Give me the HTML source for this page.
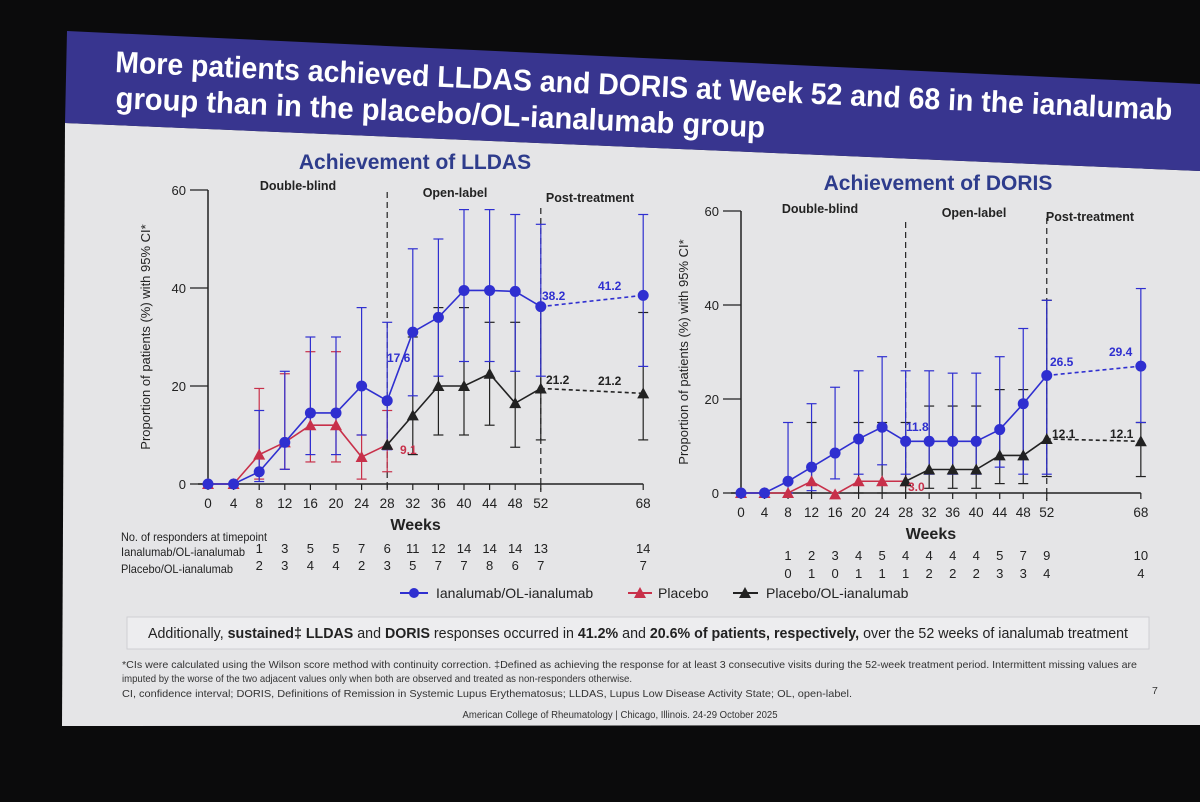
<!DOCTYPE html>
<html><head><meta charset="utf-8"><style>
body{margin:0;background:#0b0b0c;}
svg{display:block;font-family:"Liberation Sans",sans-serif;}
</style></head><body>
<svg id="s" width="1200" height="802" viewBox="0 0 1200 802">
<polygon points="65,123 1200,171 1200,725 62,726" fill="#e5e5e7"/>
<polygon points="67,31 1200,84 1200,171 65,123" fill="#38358f"/>
<g transform="rotate(2.6 115 70)" fill="#ffffff" font-weight="bold" font-size="30">
<text x="115" y="72" textLength="1058" lengthAdjust="spacingAndGlyphs">More patients achieved LLDAS and DORIS at Week 52 and 68 in the ianalumab</text>
<text x="117" y="108" textLength="650" lengthAdjust="spacingAndGlyphs">group than in the placebo/OL-ianalumab group</text>
</g>
<text x="415" y="169" text-anchor="middle" font-size="21" font-weight="bold" fill="#2e3c8c">Achievement of LLDAS</text>
<text x="938" y="190" text-anchor="middle" font-size="21" font-weight="bold" fill="#2e3c8c">Achievement of DORIS</text>
<g id="left"></g>
<g id="right"></g>
<g font-size="12" fill="#222">
<text x="121" y="541" textLength="146" lengthAdjust="spacingAndGlyphs">No. of responders at timepoint</text>
<text x="121" y="556" textLength="124" lengthAdjust="spacingAndGlyphs">Ianalumab/OL-ianalumab</text>
<text x="121" y="573" textLength="112" lengthAdjust="spacingAndGlyphs">Placebo/OL-ianalumab</text>
</g>
<g id="counts" font-size="13" fill="#222" text-anchor="middle"></g>
<g font-size="14" fill="#222">
<g><line x1="400" y1="593" x2="428" y2="593" stroke="#2f2fd0" stroke-width="2"/><circle cx="414" cy="593" r="5" fill="#2f2fd0"/><text x="436" y="598">Ianalumab/OL-ianalumab</text></g>
<g><line x1="628" y1="593" x2="652" y2="593" stroke="#c8304a" stroke-width="2"/><polygon points="640,587 646,598 634,598" fill="#c8304a"/><text x="658" y="598">Placebo</text></g>
<g><line x1="733" y1="593" x2="758" y2="593" stroke="#222" stroke-width="2"/><polygon points="745,587 751,598 739,598" fill="#222"/><text x="766" y="598">Placebo/OL-ianalumab</text></g>
</g>
<rect x="127" y="617" width="1022" height="32" fill="#ededef" stroke="#cfcfd3"/>
<text x="638" y="638" text-anchor="middle" font-size="14.5" fill="#222" textLength="980" lengthAdjust="spacingAndGlyphs">Additionally, <tspan font-weight="bold">sustained‡ LLDAS</tspan> and <tspan font-weight="bold">DORIS</tspan> responses occurred in <tspan font-weight="bold">41.2%</tspan> and <tspan font-weight="bold">20.6% of patients, respectively,</tspan> over the 52 weeks of ianalumab treatment</text>
<g font-size="10.5" fill="#333">
<text x="122" y="668" textLength="1015" lengthAdjust="spacingAndGlyphs">*CIs were calculated using the Wilson score method with continuity correction. ‡Defined as achieving the response for at least 3 consecutive visits during the 52-week treatment period. Intermittent missing values are</text>
<text x="122" y="682" textLength="510" lengthAdjust="spacingAndGlyphs">imputed by the worse of the two adjacent values only when both are observed and treated as non-responders otherwise.</text>
<text x="122" y="697" textLength="730" lengthAdjust="spacingAndGlyphs">CI, confidence interval; DORIS, Definitions of Remission in Systemic Lupus Erythematosus; LLDAS, Lupus Low Disease Activity State; OL, open-label.</text>
<text x="1152" y="694">7</text>
<text x="620" y="718" text-anchor="middle" font-size="10" textLength="315" lengthAdjust="spacingAndGlyphs">American College of Rheumatology | Chicago, Illinois. 24-29 October 2025</text>
</g>
</svg>
<script>
const weeks=[0,4,8,12,16,20,24,28,32,36,40,44,48,52,68];
const ticksY=[0,20,40,60];
// LLDAS
const lIan=[0,0,2.5,8.5,14.5,14.5,20,17,31,34,39.5,39.5,39.3,36.2,38.5];
const lIanLo=[null,null,0.5,3,6,6,10,7,18,22,25,25,23,22,24];
const lIanHi=[null,null,15,23,30,30,36,33,48,50,56,56,55,53,55];
const lPlaWeeks=[0,4,8,12,16,20,24,28];
const lPla=[0,0,6,8.5,12,12,5.5,8];
const lPlaLo=[null,null,1,3,4.5,4.5,1,2.5];
const lPlaHi=[null,null,19.5,22.5,27,27,10,15];
const lOlWeeks=[28,32,36,40,44,48,52,68];
const lOl=[8,14,20,20,22.5,16.5,19.5,18.5];
const lOlLo=[null,6,10,10,12,7.5,9,9];
const lOlHi=[null,30,36,36,33,33,36,35];
const lIanN=[null,null,1,3,5,5,7,6,11,12,14,14,14,13,14];
const lOlN=[null,null,2,3,4,4,2,3,5,7,7,8,6,7,7];
// DORIS
const dIan=[0,0,2.5,5.5,8.5,11.5,14,11,11,11,11,13.5,19,25,27];
const dIanLo=[null,null,0,0.5,3,4,6,4,4,4,4,5.5,4,4,15];
const dIanHi=[null,null,15,19,22.5,26,29,26,26,25.5,25.5,29,35,41,43.5];
const dPla=[0,0,0,2.5,-0.3,2.5,2.5,2.5];
const dPlaLo=[null,null,null,0,null,0,0,0];
const dPlaHi=[null,null,null,15,null,15,15,15];
const dOl=[2.5,5,5,5,8,8,11.5,11];
const dOlLo=[null,1,1,1,2,2,3.5,3.5];
const dOlHi=[null,18.5,18.5,18.5,22,22,41,15];
const dIanN=[null,null,1,2,3,4,5,4,4,4,4,5,7,9,10];
const dOlN=[null,null,0,1,0,1,1,1,2,2,2,3,3,4,4];

const NS="http://www.w3.org/2000/svg";
function mk(p,t,a,txt){const e=document.createElementNS(NS,t);for(const k in a)e.setAttribute(k,a[k]);if(txt!==undefined)e.textContent=txt;p.appendChild(e);return e;}
const BLUE="#2f2fd0",RED="#c8304a",BLK="#222";

function chart(g,xs,ys,cfg){
  const x0=xs(0),y0=ys(0),y60=ys(60);
  mk(g,'line',{x1:x0,y1:y60,x2:x0,y2:y0,stroke:BLK,'stroke-width':1.5});
  mk(g,'line',{x1:x0-10,y1:y0,x2:xs(68),y2:y0,stroke:BLK,'stroke-width':1.5});
  ticksY.forEach(v=>{
    const t=mk(g,'line',{x1:x0-18,y1:ys(v),x2:x0,y2:ys(v),stroke:BLK,'stroke-width':1.2});
    
    
    const l=mk(g,'text',{x:x0-22,y:ys(v)+5,'text-anchor':'end','font-size':13,fill:BLK},v);
    
    
  });
  weeks.forEach(w=>{
    mk(g,'line',{x1:xs(w),y1:y0,x2:xs(w),y2:y0+6,stroke:BLK,'stroke-width':1.2});
    const l=mk(g,'text',{x:xs(w),y:y0+24,'text-anchor':'middle','font-size':13.5,fill:BLK},w);
    
    
  });
  const wt=mk(g,'text',{x:(xs(0)+xs(68))/2-10,y:y0+46,'text-anchor':'middle','font-size':16,'font-weight':'bold',fill:BLK},'Weeks');
  
  
  const cy=(y0+y60)/2;
  const yt=mk(g,'text',{x:cfg.ytx,y:cy,'text-anchor':'middle','font-size':13,fill:BLK,transform:`rotate(-90 ${cfg.ytx} ${cy})`},'Proportion of patients (%) with 95% CI*');
  
  
  [28,52].forEach(w=>{const d=mk(g,'line',{x1:xs(w),y1:cfg.dashTop[w],x2:xs(w),y2:y0+8,stroke:BLK,'stroke-width':1.2,'stroke-dasharray':'6,4'});
    
    });
  cfg.phases.forEach(p=>{const t=mk(g,'text',{x:p[1],y:p[2],'text-anchor':'middle','font-size':12.5,'font-weight':'bold',fill:BLK},p[0]);
    
    });
}
function errs(g,xs,ys,ws,lo,hi,col,name){
  ws.forEach((w,i)=>{if(hi[i]==null)return;
    const e=mk(g,'g',{stroke:col,'stroke-width':1.2});
    
    
    mk(e,'line',{x1:xs(w),y1:ys(lo[i]),x2:xs(w),y2:ys(hi[i])});
    mk(e,'line',{x1:xs(w)-5,y1:ys(lo[i]),x2:xs(w)+5,y2:ys(lo[i])});
    mk(e,'line',{x1:xs(w)-5,y1:ys(hi[i]),x2:xs(w)+5,y2:ys(hi[i])});
  });
}
function series(g,xs,ys,ws,vals,col,shape,name,dashLast){
  const n=dashLast?ws.length-1:ws.length;
  const pts=ws.slice(0,n).map((w,i)=>xs(w)+','+ys(vals[i])).join(' ');
  const pl=mk(g,'polyline',{points:pts,fill:'none',stroke:col,'stroke-width':1.6});
  
  
  if(dashLast){const k=ws.length-1;
    const d=mk(g,'line',{x1:xs(ws[k-1]),y1:ys(vals[k-1]),x2:xs(ws[k]),y2:ys(vals[k]),stroke:col,'stroke-width':1.6,'stroke-dasharray':'4,3'});
    
    }
  ws.forEach((w,i)=>{const x=xs(w),y=ys(vals[i]);let m;
    if(shape==='c')m=mk(g,'circle',{cx:x,cy:y,r:5.5,fill:col});
    else m=mk(g,'polygon',{points:`${x},${y-6} ${x+6},${y+5} ${x-6},${y+5}`,fill:col});
    
    });
}
function counts(par,xs,a,b,y1,y2){
  weeks.forEach((w,i)=>{
    if(a[i]!=null){const t=mk(par,'text',{x:xs(w),y:y1},a[i]);}
    if(b[i]!=null){const t=mk(par,'text',{x:xs(w),y:y2},b[i]);}
  });
}
function lbl(g,x,y,t,col){const e=mk(g,'text',{x:x,y:y,'font-size':12,'font-weight':'bold',fill:col},t);
  
  }

// left chart
const xL=w=>208+w*6.40, yL=v=>484-v*4.9;
const L=document.getElementById('left');
chart(L,xL,yL,{ytx:150,dashTop:{28:192,52:208},phases:[['Double-blind',298,190],['Open-label',455,197],['Post-treatment',590,202]]});
errs(L,xL,yL,lOlWeeks,lOlLo,lOlHi,BLK,'placebo-ol-ci');
errs(L,xL,yL,lPlaWeeks,lPlaLo,lPlaHi,RED,'placebo-ci');
errs(L,xL,yL,weeks,lIanLo,lIanHi,BLUE,'ianalumab-ci');
series(L,xL,yL,lPlaWeeks,lPla,RED,'t','placebo',false);
series(L,xL,yL,lOlWeeks,lOl,BLK,'t','placebo-ol',true);
series(L,xL,yL,weeks,lIan,BLUE,'c','ianalumab',true);
lbl(L,387,362,'17.6',BLUE);lbl(L,400,454,'9.1',RED);lbl(L,542,300,'38.2',BLUE);lbl(L,598,290,'41.2',BLUE);
lbl(L,546,384,'21.2',BLK);lbl(L,598,385,'21.2',BLK);
// right chart
const xR=w=>741+w*5.88, yR=v=>493-v*4.7;
const R=document.getElementById('right');
chart(R,xR,yR,{ytx:688,dashTop:{28:222,52:218},phases:[['Double-blind',820,213],['Open-label',974,217],['Post-treatment',1090,221]]});
errs(R,xR,yR,lOlWeeks,dOlLo,dOlHi,BLK,'placebo-ol-ci');
errs(R,xR,yR,lPlaWeeks,dPlaLo,dPlaHi,BLK,'placebo-ci');
errs(R,xR,yR,weeks,dIanLo,dIanHi,BLUE,'ianalumab-ci');
series(R,xR,yR,lPlaWeeks,dPla,RED,'t','placebo',false);
series(R,xR,yR,lOlWeeks,dOl,BLK,'t','placebo-ol',true);
series(R,xR,yR,weeks,dIan,BLUE,'c','ianalumab',true);
lbl(R,906,431,'11.8',BLUE);lbl(R,908,491,'3.0',RED);lbl(R,1050,366,'26.5',BLUE);lbl(R,1109,356,'29.4',BLUE);
lbl(R,1052,438,'12.1',BLK);lbl(R,1110,438,'12.1',BLK);
const C=document.getElementById('counts');
counts(C,xL,lIanN,lOlN,553,570);
counts(C,xR,dIanN,dOlN,560,578);
</script>
</body></html>
